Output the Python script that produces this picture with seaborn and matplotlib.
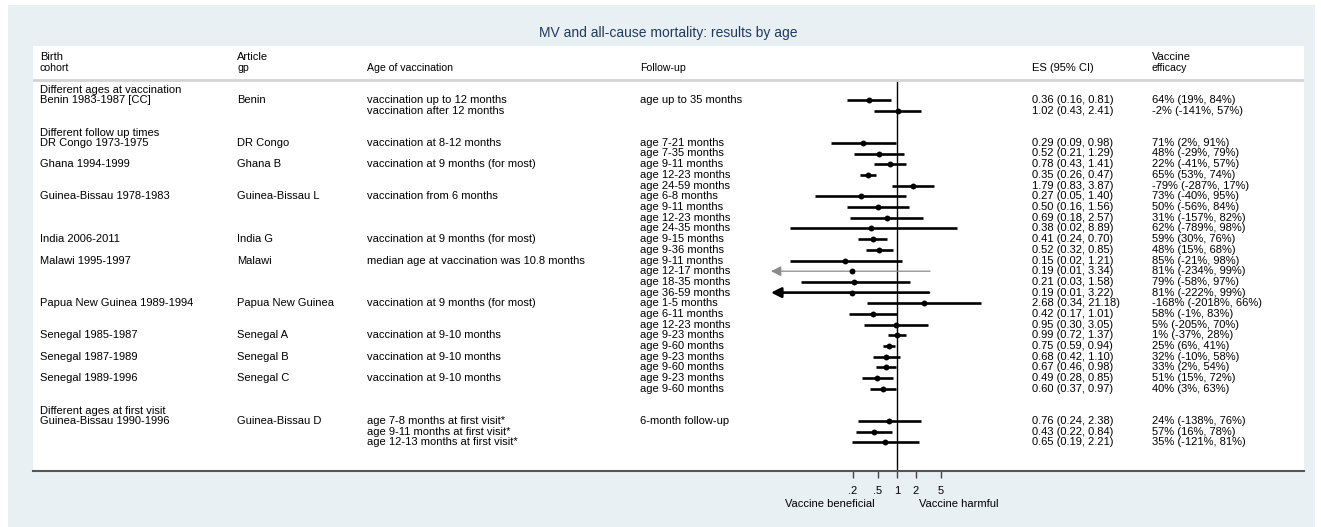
import numpy as np
import pandas as pd
import seaborn as sns
import matplotlib.pyplot as plt
from matplotlib.patches import Rectangle
from matplotlib.ticker import NullLocator

# study groups and one entry per estimate
group_titles = ["Different ages at vaccination", "Different follow up times",
                "Different ages at first visit"]
group_of = [0, 0] + [1] * 24 + [2] * 3

cohort = ["Benin 1983-1987 [CC]", "", "DR Congo 1973-1975", "", "Ghana 1994-1999", "", "",
          "Guinea-Bissau 1978-1983", "", "", "", "India 2006-2011", "",
          "Malawi 1995-1997", "", "", "", "Papua New Guinea 1989-1994", "", "",
          "Senegal 1985-1987", "", "Senegal 1987-1989", "", "Senegal 1989-1996", "",
          "Guinea-Bissau 1990-1996", "", ""]
article = ["Benin", "", "DR Congo", "", "Ghana B", "", "", "Guinea-Bissau L", "", "", "",
           "India G", "", "Malawi", "", "", "", "Papua New Guinea", "", "",
           "Senegal A", "", "Senegal B", "", "Senegal C", "", "Guinea-Bissau D", "", ""]
age_vacc = ["vaccination up to 12 months", "vaccination after 12 months",
            "vaccination at 8-12 months", "", "vaccination at 9 months (for most)", "", "",
            "vaccination from 6 months", "", "", "", "vaccination at 9 months (for most)", "",
            "median age at vaccination was 10.8 months", "", "", "",
            "vaccination at 9 months (for most)", "", "",
            "vaccination at 9-10 months", "", "vaccination at 9-10 months", "",
            "vaccination at 9-10 months", "",
            "age 7-8 months at first visit*", "age 9-11 months at first visit*",
            "age 12-13 months at first visit*"]
followup = ["age up to 35 months", "", "age 7-21 months", "age 7-35 months", "age 9-11 months",
            "age 12-23 months", "age 24-59 months", "age 6-8 months", "age 9-11 months",
            "age 12-23 months", "age 24-35 months", "age 9-15 months", "age 9-36 months",
            "age 9-11 months", "age 12-17 months", "age 18-35 months", "age 36-59 months",
            "age 1-5 months", "age 6-11 months", "age 12-23 months", "age 9-23 months",
            "age 9-60 months", "age 9-23 months", "age 9-60 months", "age 9-23 months",
            "age 9-60 months", "6-month follow-up", "", ""]
es = [0.36, 1.02, 0.29, 0.52, 0.78, 0.35, 1.79, 0.27, 0.50, 0.69, 0.38, 0.41, 0.52, 0.15,
      0.19, 0.21, 0.19, 2.68, 0.42, 0.95, 0.99, 0.75, 0.68, 0.67, 0.49, 0.60, 0.76, 0.43, 0.65]
lo = [0.16, 0.43, 0.09, 0.21, 0.43, 0.26, 0.83, 0.05, 0.16, 0.18, 0.02, 0.24, 0.32, 0.02,
      0.01, 0.03, 0.01, 0.34, 0.17, 0.30, 0.72, 0.59, 0.42, 0.46, 0.28, 0.37, 0.24, 0.22, 0.19]
hi = [0.81, 2.41, 0.98, 1.29, 1.41, 0.47, 3.87, 1.40, 1.56, 2.57, 8.89, 0.70, 0.85, 1.21,
      3.34, 1.58, 3.22, 21.18, 1.01, 3.05, 1.37, 0.94, 1.10, 0.98, 0.85, 0.97, 2.38, 0.84, 2.21]
efficacy = ["64% (19%, 84%)", "-2% (-141%, 57%)", "71% (2%, 91%)", "48% (-29%, 79%)",
            "22% (-41%, 57%)", "65% (53%, 74%)", "-79% (-287%, 17%)", "73% (-40%, 95%)",
            "50% (-56%, 84%)", "31% (-157%, 82%)", "62% (-789%, 98%)", "59% (30%, 76%)",
            "48% (15%, 68%)", "85% (-21%, 98%)", "81% (-234%, 99%)", "79% (-58%, 97%)",
            "81% (-222%, 99%)", "-168% (-2018%, 66%)", "58% (-1%, 83%)", "5% (-205%, 70%)",
            "1% (-37%, 28%)", "25% (6%, 41%)", "32% (-10%, 58%)", "33% (2%, 54%)",
            "51% (15%, 72%)", "40% (3%, 63%)", "24% (-138%, 76%)", "57% (16%, 78%)",
            "35% (-121%, 81%)"]
xticks = [0.2, 0.5, 1, 2, 5]
xtick_labels = [".2", ".5", "1", "2", "5"]

light_row = 14  # drawn thin and grey in the original

# row layout: header line per group, blank line between groups
rows, header_rows = [], []
y, prev = -1, None
for g in group_of:
    if g != prev:
        if prev is not None:
            y += 1
        header_rows.append(y)
        y += 1
        prev = g
    rows.append(y)
    y += 1

df = pd.DataFrame({"row": rows, "es": es, "lo": lo, "hi": hi})

sns.set_theme(style="white")
plt.rcParams["font.family"] = ["Liberation Sans", "DejaVu Sans"]
plt.rcParams["text.color"] = "black"
plt.rcParams["xtick.color"] = "black"

W, H = 1321, 527
fig = plt.figure(figsize=(W / 100, H / 100), dpi=100)
fig.patch.set_facecolor("white")
fig.patches.append(Rectangle((8 / W, 0), (1315 - 8) / W, 1 - 5 / H, transform=fig.transFigure,
                             facecolor="#e8f0f3", edgecolor="none", zorder=-5))

ax = fig.add_axes([33 / W, (H - 471) / H, (1304 - 33) / W, (471 - 46) / H])
ax.set_facecolor("white")

# log axis: 1 at px 897, 63 px per decade
ppd = 63.0
ax.set_xscale("log")
ax.set_xlim(10 ** ((33 - 897) / ppd), 10 ** ((1304 - 897) / ppd))
ax.set_ylim((471 - 100) / 10.7, (46 - 100) / 10.7)

# CIs
for i, r in df.iterrows():
    thin = i == light_row
    col = "#8a8a8a" if thin else "black"
    lw = 0.9 if thin else 1.9
    if r["lo"] <= 0.01:
        ax.annotate("", xy=(r["lo"], r["row"]), xytext=(r["hi"], r["row"]),
                    arrowprops=dict(arrowstyle="-|>,head_length=0.5,head_width=0.25",
                                    color=col, lw=lw, shrinkA=0, shrinkB=0))
    else:
        ax.plot([r["lo"], r["hi"]], [r["row"], r["row"]], color=col, lw=lw,
                solid_capstyle="butt", zorder=2)

sns.scatterplot(data=df, x="es", y="row", ax=ax, color="black", s=18, marker="o",
                linewidth=0, zorder=3)
ax.set_xlabel("")
ax.set_ylabel("")

# null line and header rule
hdr_y = (80 - 100) / 10.7
ax.plot([1, 1], [hdr_y, ax.get_ylim()[0]], color="black", lw=1.0, zorder=1)
ax.axhline(hdr_y, color="#d4d4d4", lw=2.0)

# columns
tr = ax.get_yaxis_transform()
colx = {"cohort": (40 - 33) / 1271, "article": (237 - 33) / 1271, "age": (367 - 33) / 1271,
        "follow": (640 - 33) / 1271, "es": (1032 - 33) / 1271, "eff": (1152 - 33) / 1271}
fs = 8
sub = 7.6
r1, r2 = (57 - 100) / 10.7, (68 - 100) / 10.7
ax.text(colx["cohort"], r1, "Birth", transform=tr, fontsize=fs, va="center")
ax.text(colx["cohort"], r2, "cohort", transform=tr, fontsize=sub, va="center")
ax.text(colx["article"], r1, "Article", transform=tr, fontsize=fs, va="center")
ax.text(colx["article"], r2, "gp", transform=tr, fontsize=sub, va="center")
ax.text(colx["age"], r2, "Age of vaccination", transform=tr, fontsize=sub, va="center")
ax.text(colx["follow"], r2, "Follow-up", transform=tr, fontsize=sub, va="center")
ax.text(colx["es"], r2, "ES (95% CI)", transform=tr, fontsize=fs, va="center")
ax.text(colx["eff"], r1, "Vaccine", transform=tr, fontsize=fs, va="center")
ax.text(colx["eff"], r2, "efficacy", transform=tr, fontsize=sub, va="center")

for hr, title in zip(header_rows, group_titles):
    ax.text(colx["cohort"], hr + 0.1, title, transform=tr, fontsize=fs, va="center")

for i, r in enumerate(rows):
    ax.text(colx["cohort"], r, cohort[i], transform=tr, fontsize=fs, va="center")
    ax.text(colx["article"], r, article[i], transform=tr, fontsize=fs, va="center")
    ax.text(colx["age"], r, age_vacc[i], transform=tr, fontsize=fs, va="center")
    ax.text(colx["follow"], r, followup[i], transform=tr, fontsize=fs, va="center")
    ax.text(colx["es"], r, f"{es[i]:.2f} ({lo[i]:.2f}, {hi[i]:.2f})", transform=tr,
            fontsize=fs, va="center")
    ax.text(colx["eff"], r, efficacy[i], transform=tr, fontsize=fs, va="center")

# axes styling
for s in ["left", "right", "top"]:
    ax.spines[s].set_visible(False)
ax.spines["bottom"].set_color("#555555")
ax.spines["bottom"].set_linewidth(1.5)
ax.set_xticks(xticks)
ax.set_xticklabels(xtick_labels)
ax.xaxis.set_minor_locator(NullLocator())
ax.set_yticks([])
ax.tick_params(axis="x", direction="out", length=5, width=1, color="#444444",
               labelsize=8, pad=6, bottom=True)

fig.text(668 / W, 1 - 33 / H, "MV and all-cause mortality: results by age", ha="center",
         va="center", fontsize=10, color="#1f3a5f")
fig.text(830 / W, 1 - 504 / H, "Vaccine beneficial", ha="center", va="center", fontsize=8)
fig.text(959 / W, 1 - 504 / H, "Vaccine harmful", ha="center", va="center", fontsize=8)

fig.savefig("out.png", dpi=100)
